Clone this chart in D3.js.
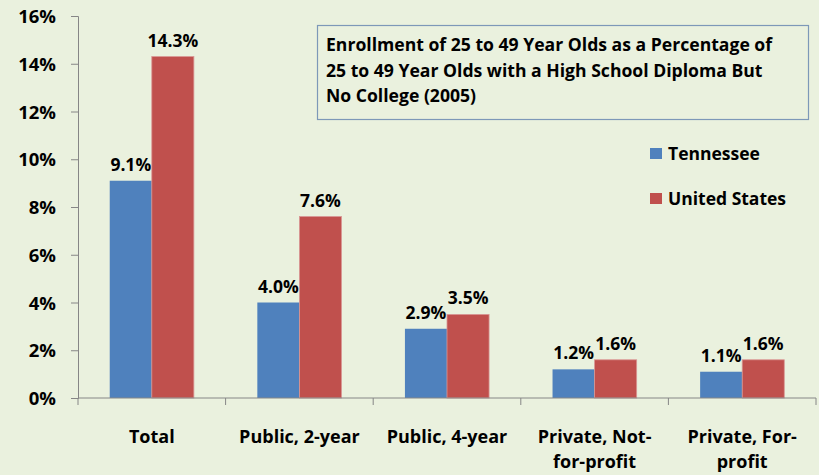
<!DOCTYPE html>
<html><head><meta charset="utf-8">
<script src="https://cdn.jsdelivr.net/npm/d3@7"></script>
<style>
html,body{margin:0;padding:0;background:#eaf1de;}
svg{display:block;}
text{font-family:"Open Sans",Lato,sans-serif;font-weight:bold;fill:#000;}
</style></head>
<body>
<svg id="chart" width="819" height="475"></svg>
<script>
const categories = [["Total"], ["Public, 2-year"], ["Public, 4-year"], ["Private, Not-", "for-profit"], ["Private, For-", "profit"]];
const seriesNames = ["Tennessee", "United States"];
const tennessee = [9.1, 4.0, 2.9, 1.2, 1.1];
const unitedStates = [14.3, 7.6, 3.5, 1.6, 1.6];
const yTicks = [0, 2, 4, 6, 8, 10, 12, 14, 16];
const titleLines = ["Enrollment of 25 to 49 Year Olds as a Percentage of", "25 to 49 Year Olds with a High School Diploma But", "No College (2005)"];
const colors = ["#4f81bd", "#c0504d"];

(function () {
const svg = d3.select("#chart");
const mLeft = 78, mRight = 816, mTop = 16, mBottom = 398;

const x = d3.scaleBand().domain(d3.range(categories.length)).range([mLeft, mRight]).paddingInner(0.43).paddingOuter(0.215);
const y = d3.scaleLinear().domain([0, 16]).range([mBottom, mTop]);
const xs = d3.scaleBand().domain([0, 1]).range([0, x.bandwidth()]);

// y axis
const yAxis = svg.append("g").attr("transform", `translate(${mLeft},0)`)
  .call(d3.axisLeft(y).tickValues(yTicks).tickFormat(d => d + "%").tickSize(7).tickPadding(15));
yAxis.select(".domain").attr("stroke", "#868686");
yAxis.selectAll(".tick line").attr("stroke", "#868686");
yAxis.selectAll(".tick text").style("font-size", "18.5px").attr("dy", "0.36em");

// bars
const series = [tennessee, unitedStates];
series.forEach((vals, si) => {
  svg.append("g").selectAll("rect").data(vals).join("rect")
    .attr("x", (d, i) => x(i) + xs(si))
    .attr("y", d => y(d))
    .attr("width", xs.bandwidth())
    .attr("height", d => y(0) - y(d))
    .attr("fill", colors[si])
    .attr("stroke", si === 1 ? "#d99694" : "none")
    .attr("stroke-width", 0.8);
  svg.append("g").selectAll("text").data(vals).join("text")
    .attr("x", (d, i) => x(i) + xs(si) + xs.bandwidth() / 2)
    .attr("y", d => y(d) - 10)
    .attr("text-anchor", "middle")
    .style("font-size", "17.5px")
    .text(d => d.toFixed(1) + "%");
});

// x axis
const step = (mRight - mLeft) / categories.length;
const xAxisG = svg.append("g");
xAxisG.append("line").attr("x1", mLeft).attr("x2", mRight).attr("y1", mBottom).attr("y2", mBottom).attr("stroke", "#868686");
xAxisG.selectAll("line.t").data(d3.range(categories.length + 1)).join("line").attr("class", "t")
  .attr("x1", i => mLeft + i * step).attr("x2", i => mLeft + i * step)
  .attr("y1", mBottom).attr("y2", mBottom + 7).attr("stroke", "#868686");
xAxisG.selectAll("text").data(categories).join("text")
  .attr("x", (d, i) => x(i) + x.bandwidth() / 2)
  .attr("y", 443)
  .attr("text-anchor", "middle")
  .style("font-size", "18px")
  .each(function(lines) {
    const cx = d3.select(this).attr("x");
    d3.select(this).selectAll("tspan").data(lines).join("tspan")
      .attr("x", cx)
      .attr("dy", (l, j) => j === 0 ? 0 : 25)
      .text(l => l);
  });

// title box
svg.append("rect").attr("x", 317.5).attr("y", 25.5).attr("width", 491).attr("height", 94)
  .attr("fill", "#eaf1de").attr("stroke", "#7d98b8").attr("stroke-width", 1.2);
svg.append("g").selectAll("text").data(titleLines).join("text")
  .attr("x", 326).attr("y", (d, i) => 51 + i * 25.5)
  .style("font-size", "17.6px")
  .text(d => d);

// legend
const leg = svg.append("g");
seriesNames.forEach((n, i) => {
  leg.append("rect").attr("x", 650).attr("y", 148 + i * 45).attr("width", 12).attr("height", 11).attr("fill", colors[i]);
  leg.append("text").attr("x", 668).attr("y", 160 + i * 45).style("font-size", "17.5px").text(n);
});
})();
</script>
</body></html>
